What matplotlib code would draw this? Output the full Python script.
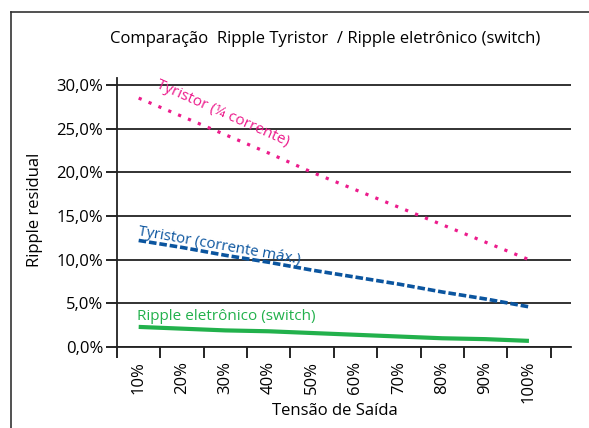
import numpy as np
import matplotlib.pyplot as plt
from matplotlib.lines import Line2D
from matplotlib.ticker import FixedLocator

plt.rcParams['font.family'] = ['Open Sans', 'DejaVu Sans']

# Data
categories = ["10%", "20%", "30%", "40%", "50%", "60%", "70%", "80%", "90%", "100%"]
tyr_quarter = [28.5, 26.4, 24.3, 22.2, 20.0, 18.0, 16.0, 14.0, 12.0, 10.0]
tyr_max = [12.2, 11.4, 10.5, 9.7, 8.8, 8.0, 7.2, 6.3, 5.5, 4.6]
switch = [2.3, 2.1, 1.9, 1.8, 1.6, 1.4, 1.2, 1.0, 0.9, 0.7]
yticks = [0, 5, 10, 15, 20, 25, 30]

pink = "#ec1c8c"
blue = "#0b559f"
green = "#22b14c"

fig = plt.figure(figsize=(5.89, 4.28), dpi=100)
ax = fig.add_axes([117 / 589, 1 - 347 / 428, (571 - 117) / 589, (347 - 78) / 428])

x = np.arange(len(categories))
ax.plot(x, tyr_quarter, color=pink, linestyle=(0, (1, 2.35)), linewidth=2.3)
ax.plot(x, tyr_max, color=blue, linestyle=(0, (2.1, 0.8)), linewidth=2.6)
ax.plot(x, switch, color=green, linewidth=3, solid_capstyle="butt")

ax.set_xlim(-0.5, 9.97)
ax.set_ylim(0, 30.8)

# gridlines
for v in yticks:
    ax.axhline(v, color="#222222", linewidth=1.3, zorder=0)

ax.set_yticks(yticks)
ax.yaxis.set_major_formatter(lambda v, p: f"{v:.1f}%".replace(".", ","))
ax.tick_params(axis="y", direction="out", length=8, width=1.2, labelsize=12, pad=2)

ax.xaxis.set_major_locator(FixedLocator(x))
ax.set_xticklabels(categories, rotation=90, fontsize=12)
ax.xaxis.set_minor_locator(FixedLocator(np.arange(-0.5, 10, 1)))
ax.tick_params(axis="x", which="major", length=0, pad=10)
ax.tick_params(axis="x", which="minor", direction="out", length=8, width=1.2)

for s in ["top", "right"]:
    ax.spines[s].set_visible(False)
for s in ["left", "bottom"]:
    ax.spines[s].set_linewidth(1.3)
    ax.spines[s].set_color("#222222")

# line labels
ax.text(0.35, 29.3, "Tyristor (¼ corrente)", color=pink, fontsize=11, rotation=-24,
        rotation_mode="anchor", ha="left", va="bottom")
ax.text(-0.05, 12.4, "Tyristor (corrente máx.)", color=blue, fontsize=10.8, rotation=-10,
        rotation_mode="anchor", ha="left", va="bottom")
ax.text(-0.05, 2.6, "Ripple eletrônico (switch)", color=green, fontsize=11,
        ha="left", va="bottom")

fig.text(325 / 589, 1 - 39 / 428, "Comparação  Ripple Tyristor  / Ripple eletrônico (switch)",
         ha="center", va="center", fontsize=12)
fig.text(335 / 589, 1 - 411 / 428, "Tensão de Saída", ha="center", va="center", fontsize=12)
fig.text(35 / 589, 1 - 210 / 428, "Ripple residual", ha="center", va="center",
         rotation=90, fontsize=12)

# outer frame (partly cropped)
fig.add_artist(Line2D([11 / 589, 11 / 589], [0, 1 - 12 / 428], color="#333333", linewidth=1.2,
                      transform=fig.transFigure))
fig.add_artist(Line2D([11 / 589, 1], [1 - 12 / 428, 1 - 12 / 428], color="#333333", linewidth=1.2,
                      transform=fig.transFigure))

fig.savefig("out.png", dpi=100)
